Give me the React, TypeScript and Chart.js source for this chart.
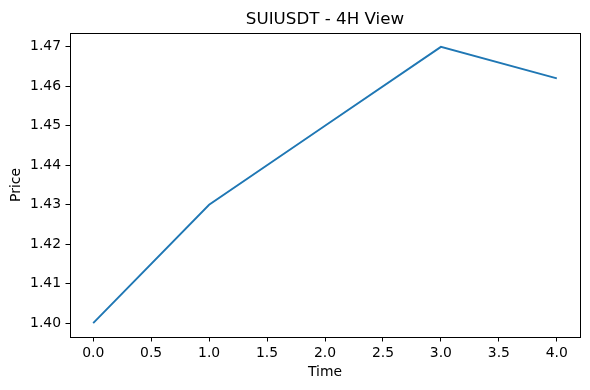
import React, { useEffect, useRef } from "react";
import { Chart, registerables } from "chart.js";

Chart.register(...registerables);

const times = [0, 1, 2, 3, 4];
const prices = [1.4, 1.43, 1.45, 1.47, 1.462];
const xTicks = [0, 0.5, 1, 1.5, 2, 2.5, 3, 3.5, 4];
const yTicks = [1.4, 1.41, 1.42, 1.43, 1.44, 1.45, 1.46, 1.47];
const titleText = "SUIUSDT - 4H View";
const xLabel = "Time";
const yLabel = "Price";

const FONT = "'DejaVu Sans', sans-serif";

const framePlugin = {
  id: "frame",
  afterLayout(chart: any) {
    const tb = chart.titleBlock;
    if (tb) {
      const w = chart.chartArea.right - chart.chartArea.left;
      tb.left = chart.chartArea.left;
      tb.right = chart.chartArea.right;
      tb.width = w;
    }
  },
  afterDraw(chart: any) {
    const { ctx, chartArea } = chart;
    ctx.save();
    ctx.strokeStyle = "#000";
    ctx.lineWidth = 1;
    ctx.strokeRect(
      Math.round(chartArea.left) + 0.5,
      Math.round(chartArea.top) + 0.5,
      Math.round(chartArea.right) - Math.round(chartArea.left),
      Math.round(chartArea.bottom) - Math.round(chartArea.top)
    );
    ctx.restore();
  },
};

export default function App() {
  const ref = useRef<HTMLCanvasElement | null>(null);
  useEffect(() => {
    if (!ref.current) return;
    const xMargin = (times[times.length - 1] - times[0]) * 0.05;
    const yMin = Math.min(...prices);
    const yMax = Math.max(...prices);
    const yMargin = (yMax - yMin) * 0.05;
    const chart = new Chart(ref.current, {
      type: "line",
      data: {
        datasets: [
          {
            data: times.map((t, i) => ({ x: t, y: prices[i] })),
            borderColor: "#1f77b4",
            borderWidth: 1.9,
            pointRadius: 0,
            tension: 0,
            fill: false,
          },
        ],
      },
      options: {
        responsive: false,
        animation: false,
        layout: { padding: { left: 0, right: 10, top: 0, bottom: 0 } },
        plugins: {
          legend: { display: false },
          tooltip: { enabled: false },
          title: {
            display: true,
            text: titleText,
            color: "#000",
            font: { family: FONT, size: 16.7, weight: "normal" },
            padding: { top: 9.5, bottom: 3.5 },
          },
        },
        scales: {
          x: {
            type: "linear",
            min: times[0] - xMargin,
            max: times[times.length - 1] + xMargin,
            afterBuildTicks: (s: any) => {
              s.ticks = xTicks.map((v) => ({ value: v }));
            },
            afterFit: (s: any) => {
              s.height = 53;
            },
            grid: {
              display: true,
              drawOnChartArea: false,
              drawTicks: true,
              tickLength: 4.5,
              color: "#000",
            },
            border: { display: true, color: "#000" },
            ticks: {
              color: "#000",
              padding: 4,
              maxRotation: 0,
              font: { family: FONT, size: 13.9 },
              callback: (v: any) => Number(v).toFixed(1),
            },
            title: {
              display: true,
              text: xLabel,
              color: "#000",
              font: { family: FONT, size: 13.9 },
              padding: { top: 0, bottom: 9.7 },
            },
          },
          y: {
            type: "linear",
            min: yMin - yMargin,
            max: yMax + yMargin,
            afterBuildTicks: (s: any) => {
              s.ticks = yTicks.map((v) => ({ value: v }));
            },
            afterFit: (s: any) => {
              s.width = 70;
            },
            grid: {
              display: true,
              drawOnChartArea: false,
              drawTicks: true,
              tickLength: 4.5,
              color: "#000",
            },
            border: { display: true, color: "#000" },
            ticks: {
              color: "#000",
              padding: 4.5,
              font: { family: FONT, size: 13.9 },
              callback: (v: any) => Number(v).toFixed(2),
            },
            title: {
              display: true,
              text: yLabel,
              color: "#000",
              font: { family: FONT, size: 13.9 },
              padding: { top: 8.4, bottom: 0 },
            },
          },
        },
      },
      plugins: [framePlugin],
    });
    return () => chart.destroy();
  }, []);
  return (
    <div style={{ position: "fixed", left: 0, top: 0, width: 590, height: 390, background: "#fff" }}>
      <canvas ref={ref} width={590} height={390} />
    </div>
  );
}
